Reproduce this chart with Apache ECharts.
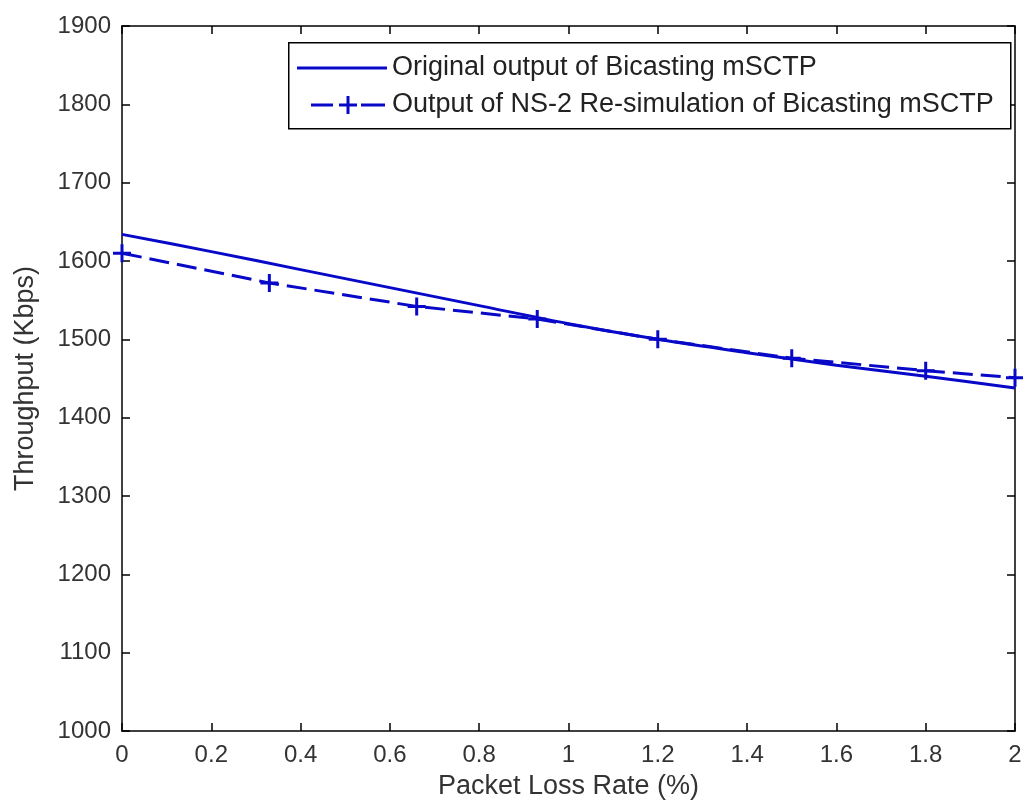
<!DOCTYPE html>
<html><head><meta charset="utf-8">
<script src="https://cdn.jsdelivr.net/npm/echarts@6/dist/echarts.min.js"></script>
<style>html,body{margin:0;padding:0;background:#fff}#c{width:1023px;height:801px}</style>
</head><body><div id="c"></div>
<script>
const origX = [0, 0.2, 0.4, 0.6, 0.8, 1.0, 1.2, 1.4, 1.6, 1.8, 2.0];
const origY = [1634, 1612, 1589, 1566, 1543, 1520, 1500, 1483, 1467, 1453, 1438];
const simX = [0, 0.33, 0.66, 0.93, 1.2, 1.5, 1.8, 2.0];
const simY = [1610, 1572, 1542, 1526, 1500, 1476, 1460, 1451];
const seriesNames = ['Original output of Bicasting mSCTP', 'Output of NS-2 Re-simulation of Bicasting mSCTP'];
const xTitle = 'Packet Loss Rate (%)';
const yTitle = 'Throughput (Kbps)';

const FONT = '"Liberation Sans", Arial, sans-serif';
const BLUE = '#0808c8';
const plus = 'path://M7.5,0H10.5V7.5H18V10.5H10.5V18H7.5V10.5H0V7.5H7.5Z';
const corners = 'M0,0h0.01v0.01h-0.01Z M89.99,17.99h0.01v0.01h-0.01Z ';
const iconSolid = 'path://' + corners + 'M0,7.5H90V10.5H0Z';
const iconDash = 'path://' + corners + 'M14,7.5H36V10.5H14Z M49.5,0H52.5V7.5H60V10.5H52.5V18H49.5V10.5H42V7.5H49.5Z M64,7.5H88V10.5H64Z';
const chart = echarts.init(document.getElementById('c'));
function axis(extra, labelExtra, show) {
  return Object.assign({
    axisLine: {show: true, onZero: false, lineStyle: {color: '#000', width: 1.5}},
    axisTick: {show: true, inside: true, length: 8, lineStyle: {color: '#000', width: 1.5}},
    splitLine: {show: false},
    axisLabel: Object.assign({show: show, color: '#333', fontFamily: FONT, fontSize: 24}, labelExtra)
  }, extra);
}
chart.setOption({
  animation: false,
  grid: {left: 122, right: 8, top: 26, bottom: 70, containLabel: false, outerBoundsMode: 'none'},
  graphic: [{
    type: 'rect', left: 288, top: 42, z: 5,
    shape: {width: 722, height: 86},
    style: {fill: '#fff', stroke: '#000', lineWidth: 1.5}
  }],
  legend: {
    left: 288, top: 42, orient: 'vertical', z: 10,
    padding: [11, 10, 8, 9], itemWidth: 90, itemHeight: 18, itemGap: 7,
    textStyle: {fontFamily: FONT, fontSize: 27, color: '#222', lineHeight: 30},
    data: [{name: seriesNames[0], icon: iconSolid}, {name: seriesNames[1], icon: iconDash}]
  },
  xAxis: [
    axis({type: 'value', min: 0, max: 2, interval: 0.2, position: 'bottom',
      name: xTitle, nameLocation: 'middle', nameGap: 42,
      nameTextStyle: {fontFamily: FONT, fontSize: 27, color: '#333'}},
      {margin: 12, formatter: v => String(+v.toFixed(1))}, true),
    axis({type: 'value', min: 0, max: 2, interval: 0.2, position: 'top'}, {}, false)
  ],
  yAxis: [
    axis({type: 'value', min: 1000, max: 1900, interval: 100, position: 'left',
      name: yTitle, nameLocation: 'middle', nameGap: 83,
      nameTextStyle: {fontFamily: FONT, fontSize: 27, color: '#333'}},
      {margin: 11, formatter: v => String(v)}, true),
    axis({type: 'value', min: 1000, max: 1900, interval: 100, position: 'right'}, {}, false)
  ],
  series: [
    {
      name: seriesNames[0], type: 'line', smooth: 0.3,
      data: origX.map((x, i) => [x, origY[i]]),
      showSymbol: false, symbol: 'none',
      lineStyle: {color: BLUE, width: 3}, itemStyle: {color: BLUE}
    },
    {
      name: seriesNames[1], type: 'line',
      data: simX.map((x, i) => [x, simY[i]]),
      symbol: plus, symbolSize: 18, showSymbol: true,
      lineStyle: {color: BLUE, width: 3, type: [20, 8]}, itemStyle: {color: BLUE}
    }
  ]
});
</script></body></html>
